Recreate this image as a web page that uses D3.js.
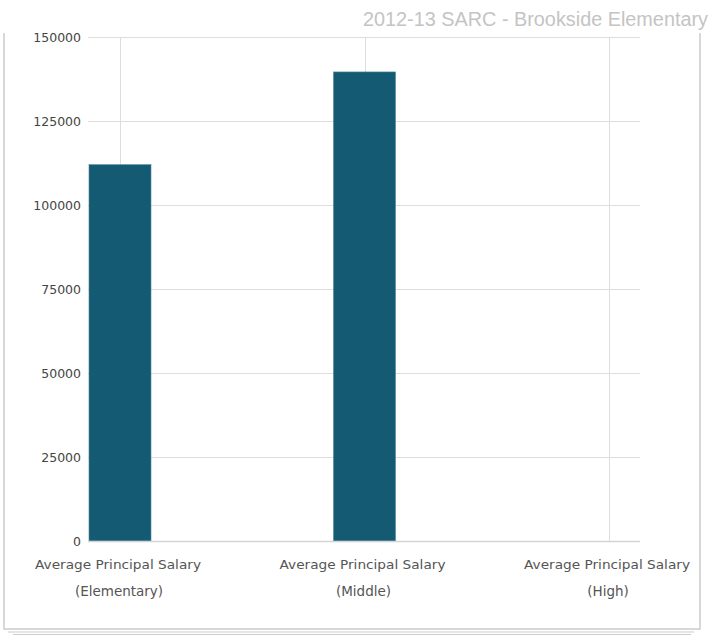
<!DOCTYPE html>
<html>
<head>
<meta charset="utf-8">
<script src="https://cdn.jsdelivr.net/npm/d3@7"></script>
<style>
  html, body { margin: 0; padding: 0; background: #fff; }
  svg { display: block; }
</style>
</head>
<body>
<svg id="chart" width="716" height="641"></svg>
<script>
// Salary data
const categories = ["Elementary", "Middle", "High"];
const labelLine1 = ["Average Principal Salary", "Average Principal Salary", "Average Principal Salary"];
const labelLine2 = ["(Elementary)", "(Middle)", "(High)"];
const salaries = [112000, 139600, 0];
const yTicks = [0, 25000, 50000, 75000, 100000, 125000, 150000];
const titleText = "2012-13 SARC - Brookside Elementary";

const svg = d3.select("#chart");
const plot = { left: 88, right: 640, top: 37, bottom: 541 };

// Page frame with stacked-sheet edges
const frame = svg.append("g").attr("fill", "none").attr("stroke", "#cccccc");
frame.append("path").attr("stroke-width", 1.5)
  .attr("d", "M4,33 V629 H700 V33");
frame.append("line").attr("x1", 8).attr("x2", 694).attr("y1", 632).attr("y2", 632).attr("stroke-width", 1.2);
frame.append("line").attr("x1", 13).attr("x2", 691).attr("y1", 634.5).attr("y2", 634.5).attr("stroke-width", 1.2);

const y = d3.scaleLinear().domain([0, 150000]).range([plot.bottom, plot.top]);
const x = d3.scalePoint().domain(categories).range([120, 609]);
const barWidth = 62;

// Horizontal gridlines
svg.append("g").selectAll("line").data(yTicks).join("line")
  .attr("x1", plot.left).attr("x2", plot.right)
  .attr("y1", d => Math.round(y(d)) + 0.5).attr("y2", d => Math.round(y(d)) + 0.5)
  .attr("stroke", "#dddddd").attr("stroke-width", 1);

// Vertical gridlines through category centres
svg.append("g").selectAll("line").data(categories).join("line")
  .attr("x1", d => Math.round(x(d)) + 0.5).attr("x2", d => Math.round(x(d)) + 0.5)
  .attr("y1", plot.top).attr("y2", plot.bottom)
  .attr("stroke", "#dddddd").attr("stroke-width", 1);

// Bars
svg.append("g").selectAll("rect").data(categories).join("rect")
  .attr("x", d => x(d) - barWidth / 2)
  .attr("width", barWidth)
  .attr("y", (d, i) => y(salaries[i]))
  .attr("height", (d, i) => y(0) - y(salaries[i]))
  .attr("fill", "#145a72")
  .attr("stroke", "#4f8799").attr("stroke-width", 0.6);

// Baseline
svg.append("line")
  .attr("x1", plot.left).attr("x2", plot.right)
  .attr("y1", y(0) + 0.5).attr("y2", y(0) + 0.5)
  .attr("stroke", "#d4d4d4").attr("stroke-width", 1.5);

// Y axis tick labels
const yAxis = d3.axisLeft(y).tickValues(yTicks).tickSize(0).tickPadding(0).tickFormat(d3.format("d"));
const yg = svg.append("g").attr("transform", `translate(81,0)`).call(yAxis);
yg.select(".domain").remove();
yg.selectAll("text")
  .attr("font-family", "DejaVu Sans, Verdana, sans-serif")
  .attr("font-size", 12.5).attr("fill", "#444").attr("dy", "0.32em");

// Category labels (two lines)
const xl = svg.append("g").attr("font-family", "DejaVu Sans, Verdana, sans-serif")
  .attr("font-size", 13).attr("fill", "#555").attr("text-anchor", "middle");
xl.selectAll("text.l1").data(categories).join("text").attr("class", "l1")
  .attr("x", d => x(d) - 2).attr("y", 569)
  .attr("textLength", 166).attr("lengthAdjust", "spacingAndGlyphs")
  .text((d, i) => labelLine1[i]);
xl.selectAll("text.l2").data(categories).join("text").attr("class", "l2")
  .attr("x", d => x(d) - 1).attr("y", 596)
  .attr("font-size", 13.5)
  .text((d, i) => labelLine2[i]);

// Title
svg.append("text")
  .attr("x", 708).attr("y", 26).attr("text-anchor", "end")
  .attr("font-family", "Liberation Sans, Arial, sans-serif")
  .attr("font-size", 20).attr("fill", "#c4c4c4")
  .attr("textLength", 345).attr("lengthAdjust", "spacingAndGlyphs")
  .text(titleText);
</script>
</body>
</html>
